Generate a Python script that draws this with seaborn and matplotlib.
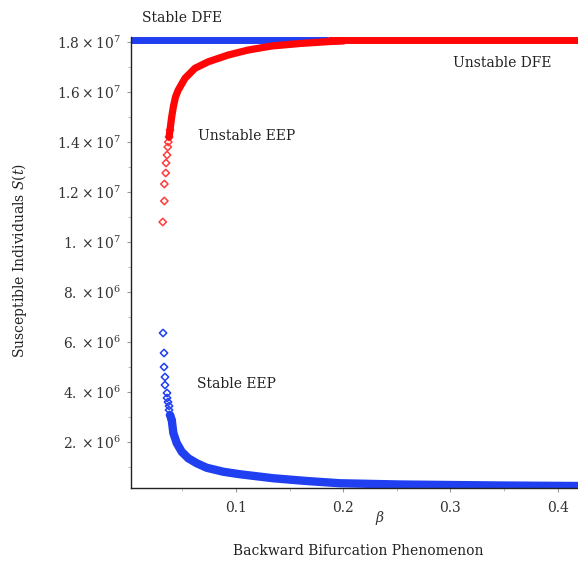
import numpy as np
import pandas as pd
import matplotlib
matplotlib.use("Agg")
import matplotlib.pyplot as plt
from matplotlib.ticker import MultipleLocator, FixedLocator, FixedFormatter
import seaborn as sns

# ---------------- data ----------------
# Stable EEP branch (lower, blue)
stable_eep_beta = [0.0320, 0.0329, 0.0329, 0.0338, 0.0338, 0.0357, 0.0357, 0.0366, 0.0376, 0.0376,
                   0.0385, 0.0401, 0.0416, 0.0447, 0.0494, 0.0555, 0.0634, 0.0727, 0.0882, 0.1037,
                   0.1348, 0.1659, 0.1969, 0.2528, 0.2994, 0.3460, 0.4190]
stable_eep_S = [6.36e6, 5.56e6, 5.00e6, 4.60e6, 4.28e6, 3.96e6, 3.76e6, 3.60e6, 3.44e6, 3.28e6,
                3.08e6, 2.88e6, 2.36e6, 1.96e6, 1.61e6, 1.35e6, 1.15e6, 0.97e6, 0.81e6, 0.71e6,
                0.55e6, 0.44e6, 0.35e6, 0.30e6, 0.28e6, 0.26e6, 0.24e6]
stable_eep_dense_from = 10

# Unstable EEP branch (upper, red)
unstable_eep_beta = [0.0317, 0.0332, 0.0332, 0.0345, 0.0348, 0.0357, 0.0364, 0.0369, 0.0376,
                     0.0385, 0.0399, 0.0416, 0.0436, 0.0462, 0.0525, 0.0618, 0.0742, 0.0928,
                     0.1115, 0.1333, 0.1596, 0.1876, 0.2000]
unstable_eep_S = [10.80e6, 11.64e6, 12.32e6, 12.76e6, 13.16e6, 13.48e6, 13.80e6, 14.00e6, 14.20e6,
                  14.48e6, 14.96e6, 15.41e6, 15.80e6, 16.08e6, 16.55e6, 16.95e6, 17.21e6, 17.48e6,
                  17.68e6, 17.84e6, 17.94e6, 18.02e6, 18.04e6]
unstable_eep_dense_from = 8

# Disease-free equilibrium
dfe_S = 18.08e6
stable_dfe_beta = [0.0021, 0.186]
unstable_dfe_beta = [0.186, 0.419]

# Axis ticks
x_ticks = [0.1, 0.2, 0.3, 0.4]
x_tick_labels = ["0.1", "0.2", "0.3", "0.4"]
y_ticks = [2e6, 4e6, 6e6, 8e6, 1e7, 1.2e7, 1.4e7, 1.6e7, 1.8e7]
y_tick_labels = [r"$2.\times10^{6}$", r"$4.\times10^{6}$", r"$6.\times10^{6}$", r"$8.\times10^{6}$",
                 r"$1.\times10^{7}$", r"$1.2\times10^{7}$", r"$1.4\times10^{7}$",
                 r"$1.6\times10^{7}$", r"$1.8\times10^{7}$"]

# ---------------- style ----------------
sns.set_theme(style="white")
plt.rcParams["font.family"] = ["DejaVu Serif"]
plt.rcParams["mathtext.fontset"] = "dejavuserif"

W, H = 578, 563
fig = plt.figure(figsize=(W / 100, H / 100), dpi=100)
ax = fig.add_axes([131 / W, 75 / H, 1 - 131 / W, (488 - 37) / H])

BLUE = "#1f3ff0"
RED = "#ff0505"

# Stable DFE (blue horizontal)
df_sdfe = pd.DataFrame({"beta": stable_dfe_beta, "S": [dfe_S] * len(stable_dfe_beta)})
sns.lineplot(data=df_sdfe, x="beta", y="S", ax=ax, color=BLUE, linewidth=5.0,
             estimator=None, sort=False, clip_on=False, solid_capstyle="butt")

# Stable EEP (blue lower)
df_seep = pd.DataFrame({"beta": stable_eep_beta, "S": stable_eep_S})
sns.lineplot(data=df_seep.iloc[stable_eep_dense_from:], x="beta", y="S", ax=ax, color=BLUE,
             linewidth=6.0, estimator=None, sort=False, solid_capstyle="round")
sns.scatterplot(data=df_seep.iloc[:stable_eep_dense_from + 2], x="beta", y="S", ax=ax, marker="D",
                s=14, facecolor="none", edgecolor=BLUE, linewidth=1.1)

# Unstable EEP (red upper)
df_ueep = pd.DataFrame({"beta": unstable_eep_beta, "S": unstable_eep_S})
sns.lineplot(data=df_ueep.iloc[unstable_eep_dense_from:], x="beta", y="S", ax=ax, color=RED,
             linewidth=5.2, estimator=None, sort=False, solid_capstyle="round")
sns.scatterplot(data=df_ueep.iloc[:unstable_eep_dense_from + 2], x="beta", y="S", ax=ax, marker="D",
                s=14, facecolor="none", edgecolor="#ff3b3b", linewidth=1.1)

# Unstable DFE (red horizontal)
df_udfe = pd.DataFrame({"beta": unstable_dfe_beta, "S": [dfe_S] * len(unstable_dfe_beta)})
sns.lineplot(data=df_udfe, x="beta", y="S", ax=ax, color=RED, linewidth=5.0,
             estimator=None, sort=False, clip_on=False, solid_capstyle="butt")

# ---------------- axes ----------------
ax.set_xlim(0.0021, 0.419)
ax.set_ylim(0.16e6, 18.2e6)
ax.xaxis.set_major_locator(FixedLocator(x_ticks))
ax.xaxis.set_major_formatter(FixedFormatter(x_tick_labels))
ax.xaxis.set_minor_locator(MultipleLocator(0.05))
ax.yaxis.set_major_locator(FixedLocator(y_ticks))
ax.yaxis.set_major_formatter(FixedFormatter(y_tick_labels))
ax.yaxis.set_minor_locator(MultipleLocator(1e6))

for s in ["top", "right"]:
    ax.spines[s].set_visible(False)
for s in ["left", "bottom"]:
    ax.spines[s].set_color("#222222")
    ax.spines[s].set_linewidth(1.0)

ax.tick_params(axis="both", which="major", direction="out", length=3, width=0.8,
               color="#9a9a9a", labelsize=10, labelcolor="#333333", pad=4,
               bottom=True, left=True)
ax.tick_params(axis="both", which="minor", direction="out", length=2, width=0.6,
               color="#b0b0b0", bottom=True, left=True)
ax.tick_params(axis="x", which="major", pad=6)
ax.set_xlabel("")
ax.set_ylabel("")

# ---------------- texts ----------------
def ftext(x, y, s, **kw):
    fig.text(x / W, 1 - y / H, s, **kw)

txt = dict(fontsize=10, color="#222222")
ftext(142, 18, "Stable DFE", va="center", ha="left", **txt)
ftext(453, 63, "Unstable DFE", va="center", ha="left", **txt)
ftext(198, 136, "Unstable EEP", va="center", ha="left", **txt)
ftext(197, 384, "Stable EEP", va="center", ha="left", **txt)
ftext(380, 518, r"$\beta$", va="center", ha="center", fontsize=10, color="#333333")
ftext(358, 551, "Backward Bifurcation Phenomenon", va="center", ha="center", **txt)
ftext(20, 260, r"Susceptible Individuals $S(t)$", va="center", ha="center", rotation=90, **txt)

fig.savefig("out.png", dpi=100)
